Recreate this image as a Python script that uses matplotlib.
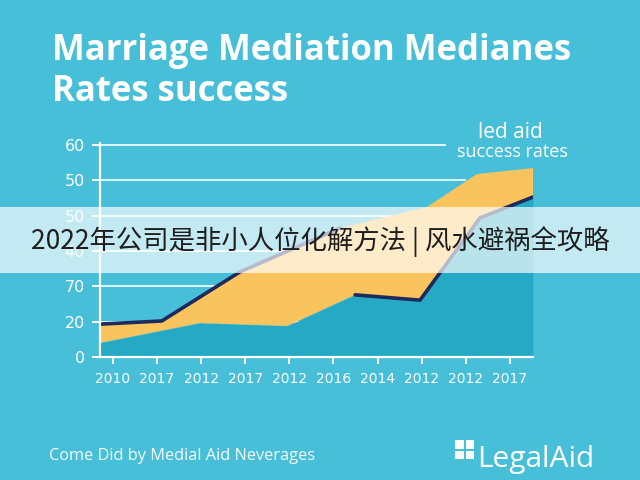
import matplotlib
matplotlib.use("Agg")
import matplotlib.pyplot as plt
from matplotlib.patches import Rectangle

# ---------------- data ----------------
years = ["2010", "2017", "2012", "2017", "2012", "2016", "2014", "2012", "2012", "2017"]
ytick_labels = ["0", "20", "70", "40", "50", "50", "60"]

upper_x = [-0.29, 1.11, 2.88, 5.15, 7.12, 8.25, 9.52]
upper_y = [0.93, 1.02, 2.41, 3.65, 4.25, 5.18, 5.35]
lower_x = [-0.29, 1.97, 3.95, 5.49, 6.96, 8.32, 9.52]
lower_y = [0.40, 0.96, 0.88, 1.76, 1.61, 3.94, 4.53]

title_lines = ["Marriage Mediation Medianes", "Rates success"]
legend_lines = ["led aid", "success rates"]
banner_text = "2022年公司是非小人位化解方法 | 风水避祸全攻略"
footer_text = "Come Did by Medial Aid Neverages"
logo_text = "LegalAid"

# ---------------- style ----------------
BG = "#48BFD9"
TEAL = "#25A9C4"
YELLOW = "#F9C45E"
NAVY = "#1E2A5C"
W = 640
H = 480

def fx(px):
    return px / W

def fy(py):
    return 1 - py / H

fig = plt.figure(figsize=(6.4, 4.8), dpi=100)
fig.patch.set_facecolor(BG)

ax = fig.add_axes([fx(100), fy(357), fx(533) - fx(100), fy(143) - fy(357)])
ax.set_facecolor("none")
ax.set_xlim(-0.29, 9.52)
ax.set_ylim(0, 6.06)

# gridlines
for v in range(1, 7):
    if v == 6:
        xmax = (7.53 + 0.29) / 9.81
    elif v == 5:
        xmax = (7.98 + 0.29) / 9.81
    else:
        xmax = 1.0
    ax.axhline(v, xmin=0, xmax=xmax, color="white", lw=1.4, alpha=0.85, zorder=1)

# areas
ax.fill_between(lower_x, lower_y, 0, color=TEAL, lw=0, zorder=2)
ax.fill(list(upper_x) + list(lower_x[::-1]), list(upper_y) + list(lower_y[::-1]),
        color=YELLOW, lw=0, zorder=2)

# navy lines
ax.plot(upper_x[:4], upper_y[:4], color=NAVY, lw=2.6, solid_capstyle="round",
        solid_joinstyle="round", zorder=3)
ax.plot(lower_x[3:], lower_y[3:], color=NAVY, lw=2.6, solid_capstyle="round",
        solid_joinstyle="round", zorder=3)

# axes styling
for s in ["top", "right"]:
    ax.spines[s].set_visible(False)
for s in ["left", "bottom"]:
    ax.spines[s].set_color("white")
    ax.spines[s].set_linewidth(1.6)
    ax.spines[s].set_zorder(4)

ax.set_xticks(range(len(years)))
ax.set_xticklabels(years)
ax.set_yticks(range(len(ytick_labels)))
ax.set_yticklabels(ytick_labels)
ax.tick_params(axis="x", colors="white", length=5, width=1.4, pad=6, labelsize=10)
ax.tick_params(axis="y", colors="white", length=6, width=1.4, pad=5, labelsize=11.5)
for lab in ax.get_xticklabels() + ax.get_yticklabels():
    lab.set_color("white")
    lab.set_family("DejaVu Sans")

# title
fig.text(fx(52), fy(60), title_lines[0], color="white", fontsize=25,
         fontweight="bold", family="Open Sans", ha="left", va="baseline")
fig.text(fx(52), fy(101), title_lines[1], color="white", fontsize=25,
         fontweight="bold", family="Open Sans", ha="left", va="baseline")

# legend-ish text
fig.text(fx(510), fy(133), legend_lines[0], color="white", fontsize=15,
         family="Open Sans", ha="center", va="center")
fig.text(fx(512), fy(152), legend_lines[1], color="white", fontsize=13,
         family="Open Sans", ha="center", va="center")

# banner
fig.add_artist(Rectangle((0, fy(273)), 1, fy(207) - fy(273), transform=fig.transFigure,
                         facecolor="white", alpha=0.68, lw=0, zorder=10))
fig.text(0.5, fy(242), banner_text, color="#1E1E1E", fontsize=19,
         family=["Noto Sans CJK SC", "DejaVu Sans"], ha="center", va="center", zorder=11)

# footer
fig.text(fx(49), fy(456), footer_text, color="white", fontsize=11.8,
         family="Open Sans", ha="left", va="center", alpha=0.95)

# logo
sq = 8.5
gap = 2
lx0, ly0 = 455, 440
for r in range(2):
    for c in range(2):
        x0 = lx0 + c * (sq + gap)
        y0 = ly0 + r * (sq + gap)
        fig.add_artist(Rectangle((fx(x0), fy(y0 + sq)), sq / W, sq / H,
                                 transform=fig.transFigure, facecolor="white",
                                 lw=0, zorder=5))
fig.text(fx(477), fy(459), logo_text, color="white", fontsize=21.5,
         family="Open Sans", ha="left", va="center")

fig.savefig("out.png", dpi=100, facecolor=BG)
